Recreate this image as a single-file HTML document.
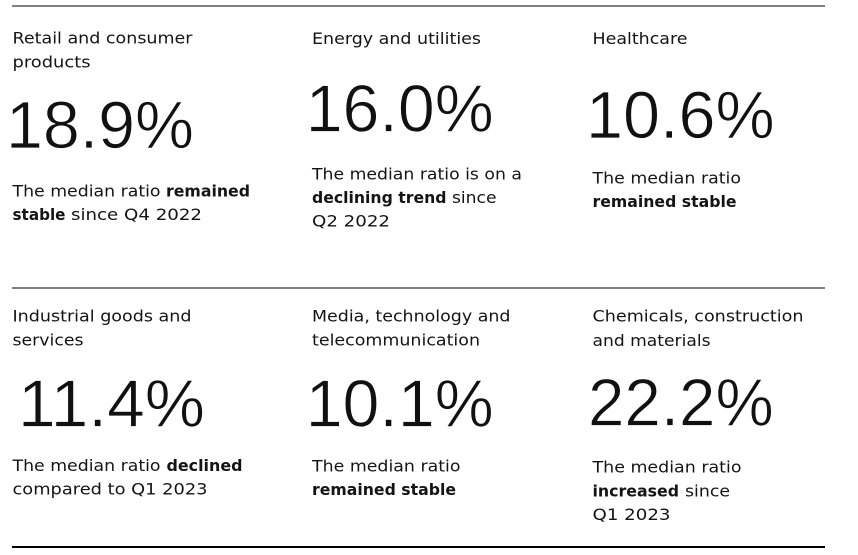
<!DOCTYPE html>
<html>
<head>
<meta charset="utf-8">
<style>
  html, body { margin: 0; padding: 0; background: #ffffff; }
  body { width: 858px; height: 555px; overflow: hidden; }
  svg { display: block; }
  .t { font-family: "DejaVu Sans", "Liberation Sans", sans-serif; font-size: 16px; fill: #141414; }
  .b { font-family: "DejaVu Sans", "Liberation Sans", sans-serif; font-size: 16px; font-weight: bold; fill: #141414; }
  .n { font-family: "Liberation Sans", sans-serif; font-size: 67px; fill: #111111; stroke: #ffffff; stroke-width: 0.8px; }
</style>
</head>
<body>
<svg width="858" height="555" viewBox="0 0 858 555" xmlns="http://www.w3.org/2000/svg">
  <!-- rules -->
  <rect x="12" y="5" width="813" height="2" fill="#808080"/>
  <rect x="12" y="287" width="813" height="2" fill="#808080"/>
  <rect x="12" y="546" width="813" height="2" fill="#000000"/>

  <!-- Row 1, Col 1 -->
  <text class="t" x="12.5" y="43.5" textLength="180" lengthAdjust="spacingAndGlyphs">Retail and consumer</text>
  <text class="t" x="12.5" y="67.5" textLength="78" lengthAdjust="spacingAndGlyphs">products</text>
  <text class="n" x="6" y="148" textLength="188" lengthAdjust="spacingAndGlyphs">18.9%</text>
  <text class="t" x="12.5" y="196.7" textLength="148" lengthAdjust="spacingAndGlyphs">The median ratio</text>
  <text class="b" x="166" y="196.7" textLength="84" lengthAdjust="spacingAndGlyphs">remained</text>
  <text class="b" x="12.5" y="220" textLength="53" lengthAdjust="spacingAndGlyphs">stable</text>
  <text class="t" x="71" y="220" textLength="131" lengthAdjust="spacingAndGlyphs">since Q4 2022</text>

  <!-- Row 1, Col 2 -->
  <text class="t" x="312" y="44" textLength="169" lengthAdjust="spacingAndGlyphs">Energy and utilities</text>
  <text class="n" x="305.7" y="131.5" textLength="188" lengthAdjust="spacingAndGlyphs">16.0%</text>
  <text class="t" x="312" y="179.5" textLength="210" lengthAdjust="spacingAndGlyphs">The median ratio is on a</text>
  <text class="b" x="312" y="203" textLength="134.5" lengthAdjust="spacingAndGlyphs">declining trend</text>
  <text class="t" x="452" y="203" textLength="44.5" lengthAdjust="spacingAndGlyphs">since</text>
  <text class="t" x="312" y="226.5" textLength="78" lengthAdjust="spacingAndGlyphs">Q2 2022</text>

  <!-- Row 1, Col 3 -->
  <text class="t" x="592.5" y="44" textLength="95" lengthAdjust="spacingAndGlyphs">Healthcare</text>
  <text class="n" x="586" y="138" textLength="188.7" lengthAdjust="spacingAndGlyphs">10.6%</text>
  <text class="t" x="592.5" y="183.5" textLength="148.5" lengthAdjust="spacingAndGlyphs">The median ratio</text>
  <text class="b" x="592.5" y="207" textLength="144" lengthAdjust="spacingAndGlyphs">remained stable</text>

  <!-- Row 2, Col 1 -->
  <text class="t" x="12.5" y="321.7" textLength="179" lengthAdjust="spacingAndGlyphs">Industrial goods and</text>
  <text class="t" x="12.5" y="345.7" textLength="71" lengthAdjust="spacingAndGlyphs">services</text>
  <text class="n" x="18" y="426.5" textLength="187" lengthAdjust="spacingAndGlyphs">11.4%</text>
  <text class="t" x="12.5" y="471" textLength="148" lengthAdjust="spacingAndGlyphs">The median ratio</text>
  <text class="b" x="166.5" y="471" textLength="76" lengthAdjust="spacingAndGlyphs">declined</text>
  <text class="t" x="12.5" y="494.5" textLength="195" lengthAdjust="spacingAndGlyphs">compared to Q1 2023</text>

  <!-- Row 2, Col 2 -->
  <text class="t" x="312" y="321.7" textLength="198.5" lengthAdjust="spacingAndGlyphs">Media, technology and</text>
  <text class="t" x="312" y="345.7" textLength="168" lengthAdjust="spacingAndGlyphs">telecommunication</text>
  <text class="n" x="305.7" y="426.5" textLength="188" lengthAdjust="spacingAndGlyphs">10.1%</text>
  <text class="t" x="312" y="471.5" textLength="148.5" lengthAdjust="spacingAndGlyphs">The median ratio</text>
  <text class="b" x="312" y="495" textLength="144" lengthAdjust="spacingAndGlyphs">remained stable</text>

  <!-- Row 2, Col 3 -->
  <text class="t" x="592.5" y="321.7" textLength="211" lengthAdjust="spacingAndGlyphs">Chemicals, construction</text>
  <text class="t" x="592.5" y="345.9" textLength="118" lengthAdjust="spacingAndGlyphs">and materials</text>
  <text class="n" x="588" y="425.5" textLength="185.7" lengthAdjust="spacingAndGlyphs">22.2%</text>
  <text class="t" x="592.5" y="472.5" textLength="149" lengthAdjust="spacingAndGlyphs">The median ratio</text>
  <text class="b" x="592.5" y="496.5" textLength="86.5" lengthAdjust="spacingAndGlyphs">increased</text>
  <text class="t" x="685" y="496.5" textLength="45" lengthAdjust="spacingAndGlyphs">since</text>
  <text class="t" x="592.5" y="520" textLength="78" lengthAdjust="spacingAndGlyphs">Q1 2023</text>
</svg>
</body>
</html>
